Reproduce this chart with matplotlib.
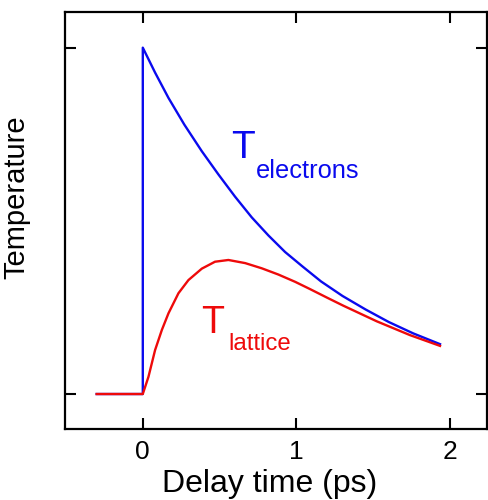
import matplotlib
matplotlib.use("Agg")
import matplotlib.pyplot as plt

plt.rcParams["font.family"] = ["Liberation Sans", "DejaVu Sans"]

# values (time in ps, temperature normalised)
t_electrons = [-0.30, 0.0, 0.0, 0.080, 0.167, 0.270, 0.384, 0.492, 0.600, 0.709,
               0.817, 0.926, 1.040, 1.160, 1.300, 1.450, 1.600, 1.760, 1.934]
T_electrons = [0.0, 0.0, 1.0, 0.928, 0.855, 0.778, 0.701, 0.634, 0.570, 0.510,
               0.458, 0.410, 0.368, 0.325, 0.283, 0.244, 0.208, 0.175, 0.144]

t_lattice = [-0.30, 0.0, 0.037, 0.080, 0.124, 0.167, 0.232, 0.297, 0.384, 0.470,
             0.557, 0.666, 0.774, 0.882, 0.991, 1.088, 1.200, 1.305, 1.522, 1.739,
             1.934]
T_lattice = [0.0, 0.0, 0.050, 0.127, 0.185, 0.233, 0.291, 0.329, 0.362, 0.382,
             0.387, 0.378, 0.363, 0.345, 0.324, 0.303, 0.278, 0.255, 0.210, 0.170,
             0.139]

x_ticks = [0, 1, 2]
y_ticks = [0, 1]

blue = "#0a0aee"
red = "#ee0a0a"

fig = plt.figure(figsize=(4.89, 5.0), dpi=100)
ax = fig.add_axes([0.133, 0.142, 0.863, 0.834])

ax.plot(t_electrons, T_electrons, color=blue, lw=1.7)
ax.plot(t_lattice, T_lattice, color=red, lw=1.7)

ax.text(0.575, 0.681, "T", color=blue, fontsize=28, ha="left", va="baseline")
ax.text(0.735, 0.625, "electrons", color=blue, fontsize=18.3, ha="left", va="baseline")
ax.text(0.38, 0.175, "T", color=red, fontsize=27, ha="left", va="baseline")
ax.text(0.555, 0.127, "lattice", color=red, fontsize=17.3, ha="left", va="baseline")

ax.set_xlim(-0.506, 2.24)
ax.set_ylim(-0.101, 1.103)
ax.set_xticks(x_ticks)
ax.set_xticklabels([str(v) for v in x_ticks], fontsize=19)
ax.set_yticks(y_ticks)
ax.set_yticklabels([])
ax.tick_params(direction="in", length=8, width=1.5, top=True, right=True, pad=8)
for s in ax.spines.values():
    s.set_linewidth(1.6)

ax.set_xlabel("Delay time (ps)", fontsize=23)
ax.xaxis.set_label_coords(0.485, -0.095)
ax.set_ylabel("Temperature", fontsize=21)
ax.yaxis.set_label_coords(-0.083, 0.557)

fig.savefig("out.png", dpi=100)
